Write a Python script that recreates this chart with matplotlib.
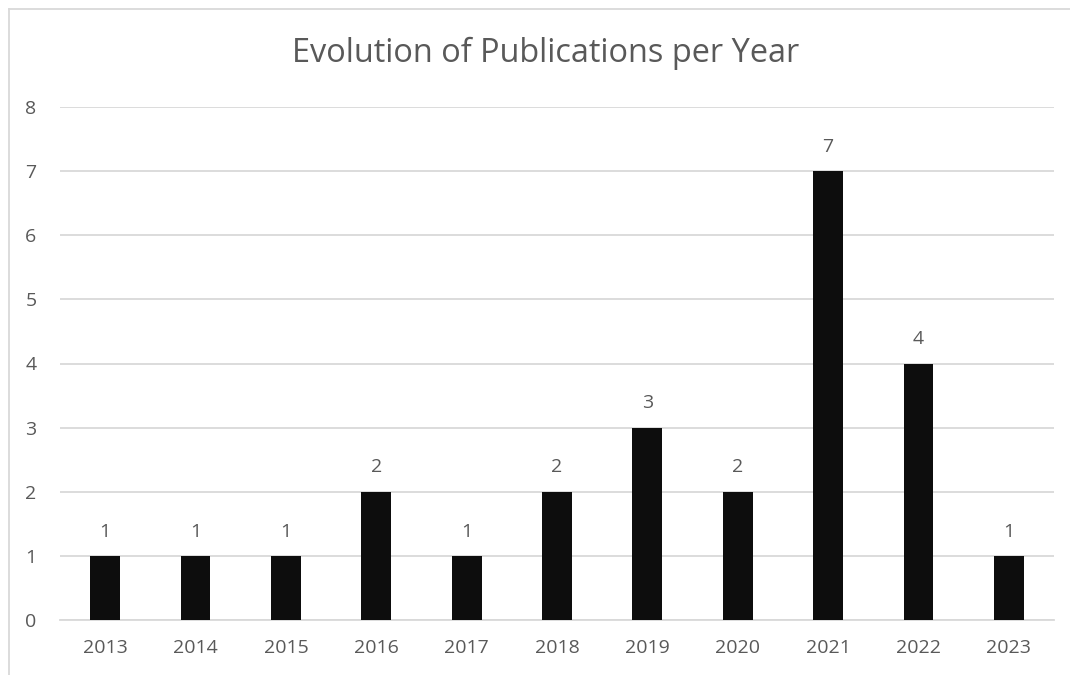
import matplotlib
matplotlib.use("Agg")
import matplotlib.pyplot as plt
from matplotlib.lines import Line2D

years = ["2013", "2014", "2015", "2016", "2017", "2018", "2019", "2020", "2021", "2022", "2023"]
publications = [1, 1, 1, 2, 1, 2, 3, 2, 7, 4, 1]
y_ticks = [0, 1, 2, 3, 4, 5, 6, 7, 8]

TEXT = "#595959"
GRID = "#d9d9d9"
BAR = "#0d0d0d"
FONT = "Open Sans"

W, H = 1070, 675
fig = plt.figure(figsize=(W / 100, H / 100), dpi=100)
fig.patch.set_facecolor("white")

# chart frame (open towards the right and bottom edges)
fx, fy = 8.5 / W, 1 - 9 / H
fig.add_artist(Line2D([fx, fx], [-0.05, fy], transform=fig.transFigure,
                      color=GRID, linewidth=1.3))
fig.add_artist(Line2D([fx, 1.05], [fy, fy], transform=fig.transFigure,
                      color=GRID, linewidth=1.3))

ax = fig.add_axes([60 / W, 1 - 620 / H, (1054 - 60) / W, (620 - 107) / H])
x = range(len(years))
ax.bar(x, publications, width=0.33, color=BAR, zorder=3)
ax.set_xlim(-0.5, len(years) - 0.5)
ax.set_ylim(0, 8)
ax.set_yticks(y_ticks)
ax.set_xticks(list(x))
ax.set_xticklabels(years)
ax.yaxis.grid(True, color=GRID, linewidth=1.3, zorder=0)
ax.set_axisbelow(True)
for s in ["top", "right", "left"]:
    ax.spines[s].set_visible(False)
ax.spines["bottom"].set_color(GRID)
ax.spines["bottom"].set_linewidth(1.3)
ax.tick_params(axis="both", length=0, colors=TEXT, labelsize=14)
ax.tick_params(axis="x", pad=14)
ax.tick_params(axis="y", pad=17)
for lab in ax.get_xticklabels() + ax.get_yticklabels():
    lab.set_fontfamily(FONT)

for xi, v in zip(x, publications):
    ax.annotate(str(v), (xi, v), xytext=(0, 11), textcoords="offset points",
                ha="center", va="bottom", color=TEXT, fontsize=14, fontfamily=FONT)

fig.text(546 / W, 1 - 53 / H, "Evolution of Publications per Year", ha="center", va="center",
         color=TEXT, fontsize=23.4, fontfamily=FONT)

fig.savefig("out.png", dpi=100, facecolor="white")
